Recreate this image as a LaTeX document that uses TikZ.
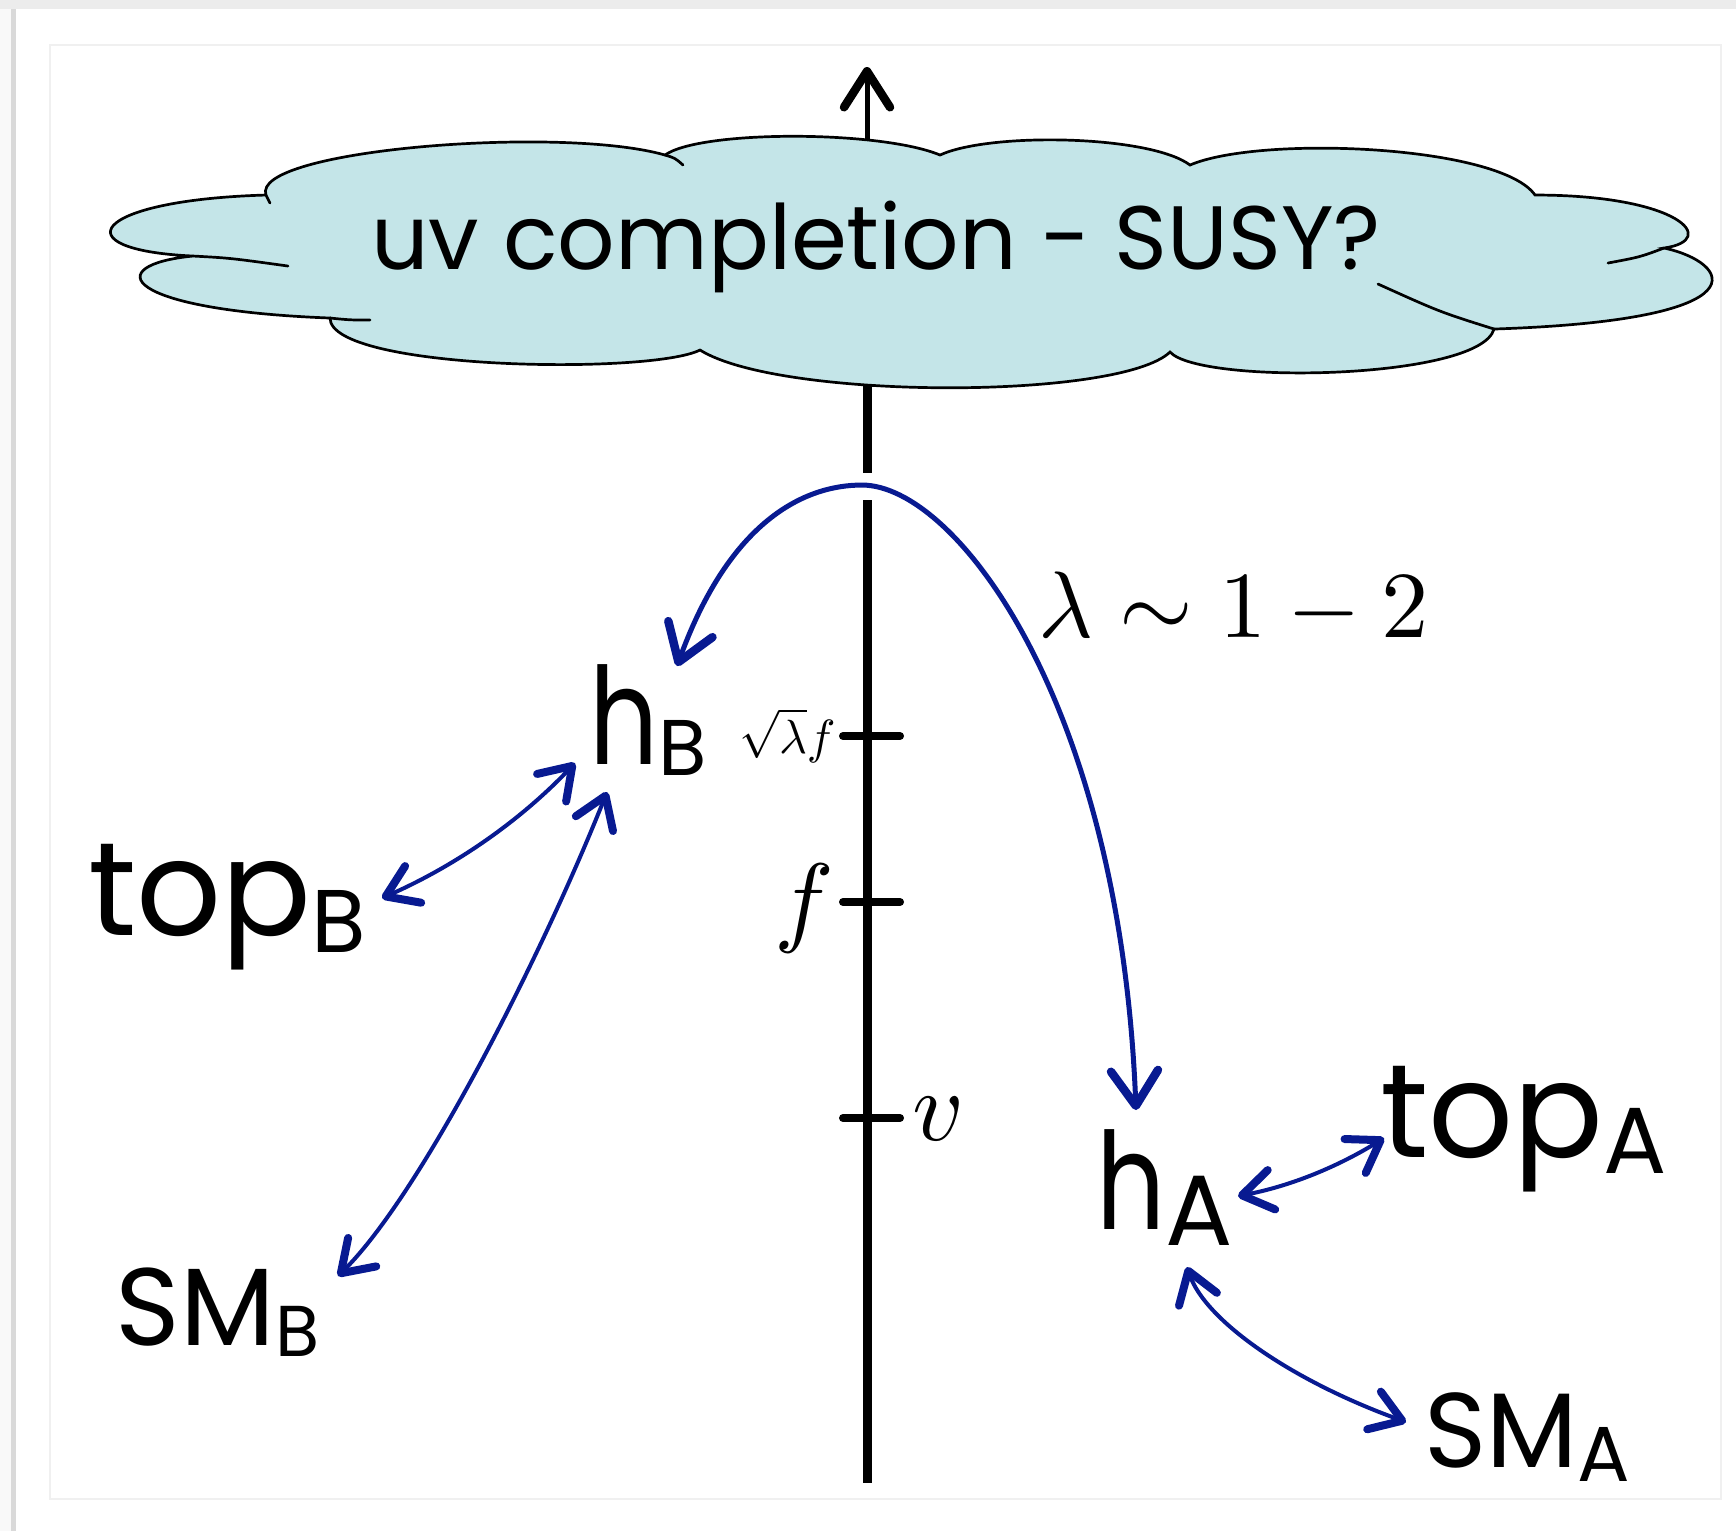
\documentclass[tikz,border=0pt]{standalone}
\usepackage{fontspec}
\newfontfamily\handfont{Poppins}
\usetikzlibrary{arrows.meta,calc}
\definecolor{cloudc}{RGB}{196,229,232}
\definecolor{arrowc}{RGB}{8,26,145}
\newcommand\lsub[3]{\raisebox{-#1pt}{\fontsize{#2}{#2}\selectfont #3}}
\newcommand\narrowh{\scalebox{0.8}[1]{h}}
\begin{document}
\begin{tikzpicture}[x=0.1pt,y=-0.1pt,
  hand/.style={inner sep=0pt,anchor=base west,font=\handfont\fontsize{13.3}{14}\selectfont},
  mathlbl/.style={inner sep=0pt,anchor=base west},
  dbl/.style={draw=arrowc,line width=0.4pt,>={Straight Barb[length=3pt,width=4pt,line width=0.8pt,round]},<->},
  bigarc/.style={draw=arrowc,line width=0.5pt,>={Straight Barb[length=3.5pt,width=4.7pt,line width=0.85pt,round]},<->},
  axisline/.style={line width=0.9pt},
  tickline/.style={line width=0.8pt,line cap=round},
  cloudline/.style={line width=0.27pt,line cap=round}]
\useasboundingbox (0,0) rectangle (1736,1531);
% page
\fill[gray!5] (0,0) rectangle (1736,1531);
\fill[gray!15] (0,0) rectangle (1736,9);
\fill[gray!30] (11,9) rectangle (16,1531);
\fill[white] (16,9) rectangle (1736,1531);
\draw[gray!12,line width=0.25pt] (50,45) rectangle (1721,1499);
% axis
\coordinate (axtop) at (867,67);
\coordinate (axbase) at (867,150);
\draw[line width=0.5pt,>={Straight Barb[length=3.6pt,width=4.6pt,line width=0.85pt,round]},->] (axbase) -- (axtop);
\draw[axisline] (867,383) -- (867,473);
\draw[axisline] (867,500) -- (867,1483);
\draw[tickline] (843,736) -- (900,736);
\draw[tickline] (843,902) -- (900,902);
\draw[tickline] (843,1118) -- (900,1118);
% cloud
\path[fill=cloudc] (266,195) .. controls (250,150) and (560,125) .. (665,155)
 .. controls (700,130) and (880,130) .. (940,155)
 .. controls (990,132) and (1150,135) .. (1190,165)
 .. controls (1260,135) and (1500,145) .. (1535,195)
 .. controls (1680,195) and (1720,240) .. (1664,248)
 .. controls (1730,262) and (1770,320) .. (1494,329)
 .. controls (1480,380) and (1200,385) .. (1170,352)
 .. controls (1120,400) and (780,400) .. (700,350)
 .. controls (650,375) and (330,370) .. (330,318)
 .. controls (120,310) and (100,265) .. (193,256)
 .. controls (60,250) and (90,200) .. (266,195) -- cycle;
\draw[cloudline] (266,195) .. controls (250,150) and (560,125) .. (665,155)
 .. controls (700,130) and (880,130) .. (940,155)
 .. controls (990,132) and (1150,135) .. (1190,165)
 .. controls (1260,135) and (1500,145) .. (1535,195)
 .. controls (1680,195) and (1720,240) .. (1664,248)
 .. controls (1730,262) and (1770,320) .. (1494,329)
 .. controls (1480,380) and (1200,385) .. (1170,352)
 .. controls (1120,400) and (780,400) .. (700,350)
 .. controls (650,375) and (330,370) .. (330,318)
 .. controls (120,310) and (100,265) .. (193,256)
 .. controls (60,250) and (90,200) .. (266,195) -- (270,203);
\draw[cloudline] (193,256) .. controls (230,258) .. (288,266);
\draw[cloudline] (330,318) .. controls (350,320) .. (370,320);
\draw[cloudline] (665,155) .. controls (675,158) .. (683,165);
\draw[cloudline] (1664,248) .. controls (1640,257) .. (1608,263);
\draw[cloudline] (1494,329) .. controls (1440,312) .. (1378,284);
\node[inner sep=0pt,anchor=base,font=\handfont\fontsize{9}{10}\selectfont] (uv) at (876,269) {uv completion - SUSY?};
% labels
\node[hand,font=\handfont\fontsize{13.5}{14}\selectfont] (hB) at (587,764) {\narrowh\lsub{1.1}{7.9}{B}};
\node[hand] (topB) at (86,935) {top\lsub{1.7}{8.9}{B}};
\node[hand,font=\handfont\fontsize{11}{12}\selectfont] (smB) at (114,1345) {SM\lsub{1.1}{7.2}{B}};
\node[hand,font=\handfont\fontsize{13.5}{14}\selectfont] (hA) at (1094,1229) {\narrowh\lsub{1.6}{10}{A}};
\node[hand] (topA) at (1378,1157) {top\lsub{1.6}{9.4}{A}};
\node[hand,font=\handfont\fontsize{10.6}{12}\selectfont] (smA) at (1422,1467) {SM\lsub{1.4}{7.8}{A}};
\node[mathlbl,font=\fontsize{10}{12}\selectfont] (lam) at (1036,637) {\scalebox{0.945}{$\lambda\sim 1-2$}};
\node[mathlbl,font=\fontsize{10}{12}\selectfont] (sqf) at (737,753) {\scalebox{0.48}{$\sqrt{\lambda}f$}};
\node[mathlbl,font=\fontsize{10}{12}\selectfont] (fl) at (772,933) {$f$};
\node[mathlbl,font=\fontsize{10}{12}\selectfont] (vl) at (910,1140) {$v$};
% arrow ends
\coordinate (aL) at (677,666);
\coordinate (aR) at (1136,1110);
\coordinate (tB) at (382,898);
\coordinate (hB1) at (575,763);
\coordinate (sB) at (338,1276);
\coordinate (hB2) at (607,792);
\coordinate (hA1) at (1238,1196);
\coordinate (tA) at (1384,1138);
\coordinate (hA2) at (1187,1267);
\coordinate (sA) at (1406,1422);
% arrows
\draw[bigarc] (aL) .. controls (730,520) and (805,485) .. (862,485) .. controls (955,485) and (1120,700) .. (aR);
\draw[dbl] (tB) .. controls (455,866) and (520,821) .. (hB1);
\draw[dbl] (sB) .. controls (420,1195) and (540,960) .. (hB2);
\draw[dbl] (hA1) .. controls (1291,1186) and (1339,1166) .. (tA);
\draw[dbl] (hA2) .. controls (1205,1320) and (1290,1380) .. (sA);
\end{tikzpicture}
\end{document}
